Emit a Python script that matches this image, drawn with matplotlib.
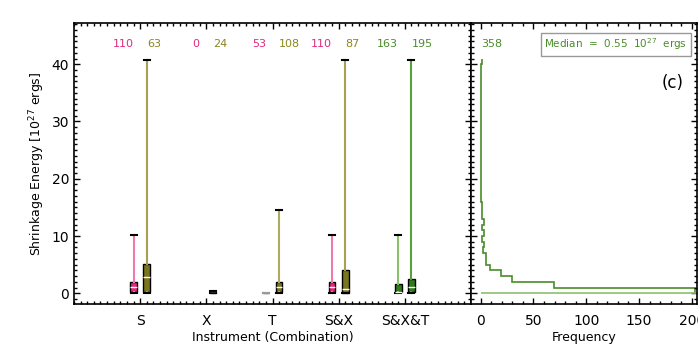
import matplotlib
matplotlib.use('Agg')
import matplotlib.pyplot as plt
from matplotlib.ticker import MultipleLocator

# ---- data ----
groups = ['S', 'X', 'T', 'S&X', 'S&X&T']
counts_a = [110, 0, 53, 110, 163]
counts_b = [63, 24, 108, 87, 195]

# box stats: (whislo, q1, med, q3, whishi), None = no box
stats_a = [(0.05, 0.2, 1.1, 1.9, 10.2),
           None,
           (0.05, 0.05, 0.05, 0.05, 0.05),
           (0.05, 0.2, 1.1, 1.9, 10.2),
           (0.05, 0.15, 0.3, 1.55, 10.2)]
stats_b = [(0.05, 0.2, 2.9, 5.1, 40.7),
           (0.0, 0.1, 0.2, 0.3, 0.35),
           (0.05, 0.2, 1.15, 1.95, 14.6),
           (0.05, 0.1, 0.7, 4.1, 40.7),
           (0.05, 0.15, 1.15, 2.5, 40.7)]

pink, olive, green = '#e02a7e', '#8a861e', '#4a8c2a'
fill_a = [pink, None, '#999999', pink, '#2f7d18']
fill_b = ['#7a761e', '#222222', '#7a761e', '#7a761e', '#2f7d18']
med_a = ['white', None, '#999999', 'white', 'white']
med_b = ['white', '#222222', 'white', 'white', 'white']
whisk_a = ['#f07ab0', None, '#999999', '#f07ab0', '#8cbf6e']
whisk_b = ['#a8a050', '#222222', '#b0aa60', '#a8a050', '#5aa03a']
text_a = [pink, pink, pink, pink, green]
text_b = [olive, olive, olive, olive, green]

# histogram of energies (bins of 1e27 ergs)
hist_edges = list(range(0, 42))
hist_counts = [203, 69, 30, 19, 9, 5, 5, 2, 3, 1, 3, 1, 3, 1, 1, 1,
               0, 0, 0, 0, 0, 0, 0, 0, 0, 0, 0, 0, 0, 0, 0, 0,
               0, 0, 0, 0, 0, 0, 0, 0, 1]
hist_total = 358
median_val = 0.55

fig = plt.figure(figsize=(6.98, 3.53), dpi=100)
ax = fig.add_axes([74/698, 1-304/353, 397/698, 281/353])
ax2 = fig.add_axes([471/698, 1-304/353, 226/698, 281/353])

ylim = (-1.87, 47.2)


def style(a):
    for s in a.spines.values():
        s.set_linewidth(1.2)
    a.tick_params(which='both', direction='in', top=True, right=True, width=1.0)
    a.tick_params(which='major', length=4.5, labelsize=10)
    a.tick_params(which='minor', length=2.2)


for i, g in enumerate(groups):
    for st, off, fc, mc, wc in [(stats_a[i], -0.1, fill_a[i], med_a[i], whisk_a[i]),
                                (stats_b[i], 0.1, fill_b[i], med_b[i], whisk_b[i])]:
        if st is None:
            continue
        lo, q1, med, q3, hi = st
        edge = 'black' if fc != '#999999' else '#999999'
        ax.bxp([dict(whislo=lo, q1=q1, med=med, q3=q3, whishi=hi, fliers=[])],
               positions=[i + 1 + off], widths=0.1, capwidths=0.09,
               patch_artist=True, showfliers=False, manage_ticks=False,
               boxprops=dict(facecolor=fc, edgecolor=edge, linewidth=1.0),
               medianprops=dict(color=mc, linewidth=1.0),
               whiskerprops=dict(color=wc, linewidth=1.5),
               capprops=dict(color=edge, linewidth=1.5))
    ax.text(i + 1 - 0.1, 43.5, str(counts_a[i]), color=text_a[i], fontsize=8,
            ha='right', va='center')
    ax.text(i + 1 + 0.1, 43.5, str(counts_b[i]), color=text_b[i], fontsize=8,
            ha='left', va='center')

ax.set_xlim(0, 6)
ax.set_ylim(*ylim)
ax.set_xticks(range(1, len(groups) + 1))
ax.set_xticklabels(groups, fontsize=9)
ax.xaxis.set_minor_locator(MultipleLocator(0.1))
ax.yaxis.set_major_locator(MultipleLocator(10))
ax.yaxis.set_minor_locator(MultipleLocator(1))
style(ax)
ax.tick_params(axis='x', pad=7)
ax.set_xlabel('Instrument (Combination)', fontsize=9, labelpad=2)
ax.set_ylabel('Shrinkage Energy [10$^{27}$ ergs]', fontsize=9, labelpad=3)

# right panel: histogram
xmax = 205
ax2.hlines(0, 0, xmax, color='#8cbf6e', linewidth=1.2)
ax2.stairs(hist_counts, hist_edges, orientation='horizontal', baseline=None,
           color='#4a8c2a', linewidth=1.2)
ax2.set_xlim(-9.2, xmax)
ax2.set_ylim(*ylim)
ax2.xaxis.set_major_locator(MultipleLocator(50))
ax2.xaxis.set_minor_locator(MultipleLocator(10))
ax2.yaxis.set_major_locator(MultipleLocator(10))
ax2.yaxis.set_minor_locator(MultipleLocator(1))
ax2.set_yticklabels([])
style(ax2)
ax2.tick_params(axis='x', pad=7, labelsize=10)
ax2.set_xlabel('Frequency', fontsize=9, labelpad=2)
ax2.text(0.01, 43.5, str(hist_total), color=green, fontsize=8, va='center', ha='left')
ax2.text(0.64, 0.925, 'Median  =  %.2f  10$^{27}$  ergs' % median_val,
         transform=ax2.transAxes, color=green, fontsize=7.5, ha='center', va='center',
         bbox=dict(boxstyle='square,pad=0.35', facecolor='white', edgecolor='#999999',
                   linewidth=1.0))
ax2.text(0.89, 0.785, '(c)', transform=ax2.transAxes, fontsize=12, ha='center',
         va='center')

fig.savefig('out.png', dpi=100)
